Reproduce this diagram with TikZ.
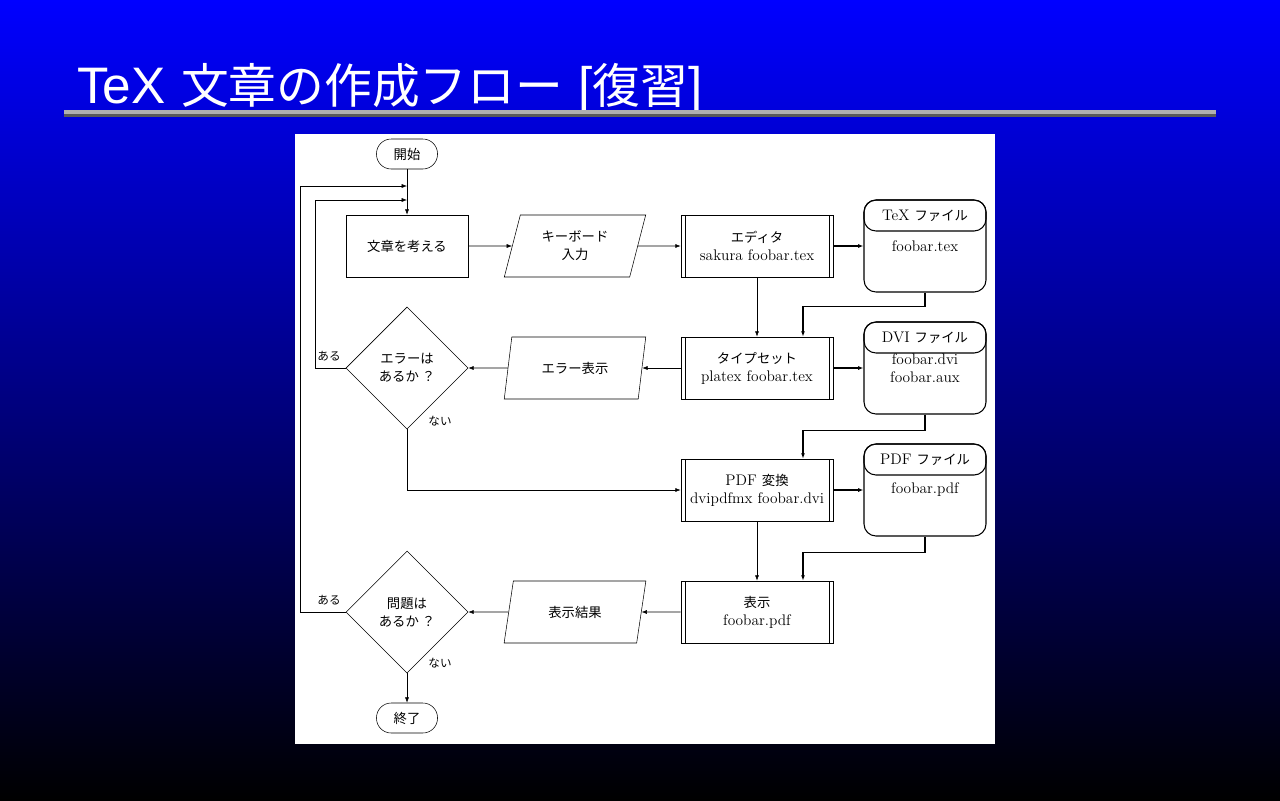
\documentclass[tikz,border=0pt]{standalone}
\usepackage{fontspec}
\newfontfamily\jp[Scale=0.87]{Noto Sans CJK JP}
\newfontfamily\titlesf{Liberation Sans}
\newfontfamily\titlejp[Scale=0.93]{Noto Sans CJK JP}
\usetikzlibrary{shapes.geometric,arrows.meta,positioning}
\definecolor{rulelight}{HTML}{B0B0B0}
\definecolor{ruledark}{HTML}{5A5A5A}
\tikzset{
  terminal/.style={draw, rounded corners=11pt, minimum width=45.75pt, minimum height=22.5pt, inner sep=0pt},
  process/.style={draw, minimum width=91.5pt, minimum height=46.5pt, inner sep=0pt},
  io/.style={draw, trapezium, trapezium left angle=72, trapezium right angle=108, trapezium stretches=true,
    minimum width=106.5pt, minimum height=46.5pt, inner sep=0pt, align=center},
  predef/.style={draw, semithick, minimum width=114pt, minimum height=46.5pt, inner sep=0pt, align=center,
    path picture={
      \draw ([xshift=3pt]path picture bounding box.north west) -- ([xshift=3pt]path picture bounding box.south west);
      \draw ([xshift=-3pt]path picture bounding box.north east) -- ([xshift=-3pt]path picture bounding box.south east);
    }},
  decision/.style={draw, diamond, minimum width=91.5pt, minimum height=91.5pt, inner sep=0pt, align=center},
  datafile/.style={draw, thick, rounded corners=9pt, minimum width=91.5pt, minimum height=69pt, inner sep=0pt, align=center},
  filehead/.style={draw, thick, rounded corners=9pt, minimum width=91.5pt, minimum height=23.25pt, inner sep=0pt, anchor=north},
  lbl/.style={font=\fontsize{10}{12}\selectfont\jp},
  flow/.style={->, thick},
}
\begin{document}
\begin{tikzpicture}[x=0.75pt, y=-0.75pt, >={Latex[length=4pt,width=3pt]},
    font=\fontsize{11.5}{13.5}\selectfont]
    % slide background
    \shade[top color=blue, bottom color=black] (0,0) rectangle (1280,800);
    \node[anchor=base west, text=white, inner sep=0pt] (title) at (77,103)
        {\fontsize{38.5}{41}\selectfont{\titlesf TeX} {\titlejp 文章の作成フロー} {\titlesf [}{\titlejp 復習}{\titlesf ]}};
    \fill[rulelight] (64,110) rectangle (1216,113.5);
    \fill[ruledark] (64,113.5) rectangle (1216,117);
    \fill[white] (295,134) rectangle (995,744);

    % left column
    \node[terminal] (start) at (407,154) {\jp 開始};
    \node[process] (think) at (407,246) {\jp 文章を考える};
    \node[decision] (errq) at (407,368) {\jp エラーは\\\jp あるか ？};
    \node[decision] (probq) at (407,612) {\jp 問題は\\\jp あるか ？};
    \node[terminal] (stop) at (407,718) {\jp 終了};

    % input / output
    \node[io] (key) at (575,246) {\jp キーボード\\\jp 入力};
    \node[io] (errshow) at (575,368) {\jp エラー表示};
    \node[io] (result) at (575,612) {\jp 表示結果};

    % programs
    \node[predef] (editor) at (757,246) {{\jp エディタ}\\sakura foobar.tex};
    \node[predef] (typeset) at (757,368) {{\jp タイプセット}\\platex foobar.tex};
    \node[predef] (pdfconv) at (757,490) {PDF {\jp 変換}\\dvipdfmx foobar.dvi};
    \node[predef] (show) at (757,612) {{\jp 表示}\\foobar.pdf};

    % files
    \node[datafile] (texfile) at (925,246) {foobar.tex};
    \node[filehead] (texhead) at (texfile.north) {TeX {\jp ファイル}};
    \node[datafile] (dvifile) at (925,368) {foobar.dvi\\foobar.aux};
    \node[filehead] (dvihead) at (dvifile.north) {DVI {\jp ファイル}};
    \node[datafile] (pdffile) at (925,490) {foobar.pdf};
    \node[filehead] (pdfhead) at (pdffile.north) {PDF {\jp ファイル}};

    \coordinate (in1) at (407,186);
    \coordinate (in2) at (407,200);

    \draw[->] (start) -- (think);
    \draw[->] (think) -- (key);
    \draw[->] (key) -- (editor);
    \draw[->] (editor) -- (typeset);
    \draw[->] (typeset) -- (errshow);
    \draw[->] (errshow) -- (errq);
    \draw[->] (errq.west) -- ++(-30,0) |- (in2);
    \draw[->] (errq.south) |- (pdfconv.west);
    \draw[->] (pdfconv) -- (show);
    \draw[->] (show) -- (result);
    \draw[->] (result) -- (probq);
    \draw[->] (probq.west) -- ++(-45,0) |- (in1);
    \draw[->] (probq) -- (stop);

    \draw[flow] (editor) -- (texfile);
    \draw[flow] (texfile.south) -- ++(0,14) -| ([xshift=34.5pt]typeset.north);
    \draw[flow] (typeset) -- (dvifile);
    \draw[flow] (dvifile.south) -- ++(0,16) -| ([xshift=34.5pt]pdfconv.north);
    \draw[flow] (pdfconv) -- (pdffile);
    \draw[flow] (pdffile.south) -- ++(0,16) -| ([xshift=34.5pt]show.north);

    \node[lbl] (erryes) at (329,356) {ある};
    \node[lbl] (errno) at (440,421) {ない};
    \node[lbl] (probyes) at (329,600) {ある};
    \node[lbl] (probno) at (440,663) {ない};
\end{tikzpicture}
\end{document}
